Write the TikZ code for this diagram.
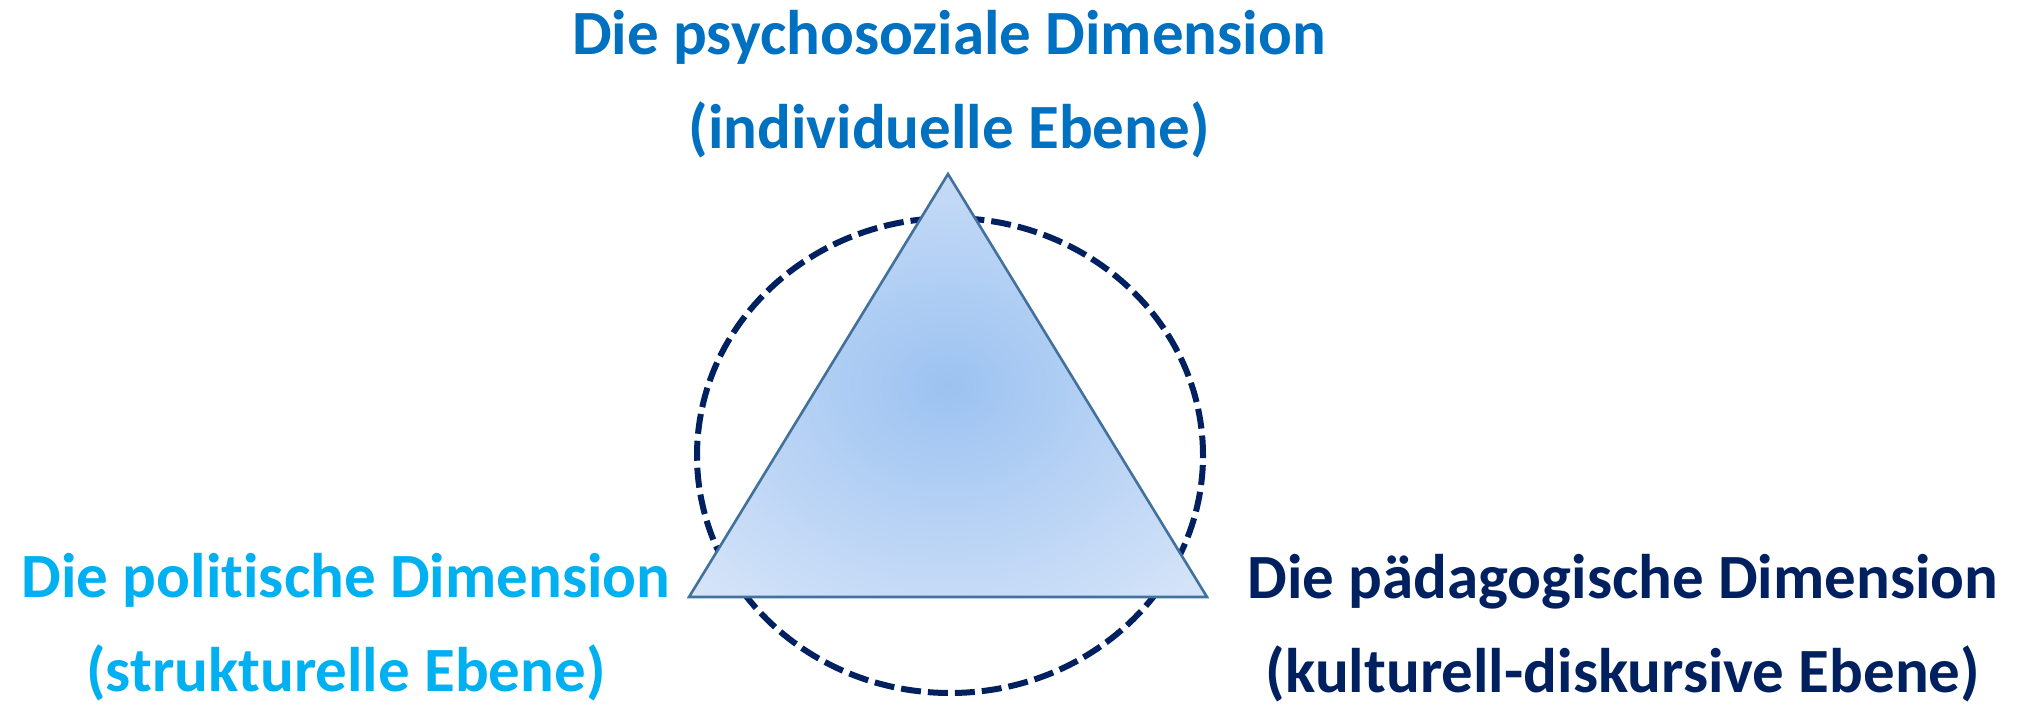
\documentclass[tikz,border=0pt]{standalone}
\usepackage{fontspec}
\setmainfont[Ligatures=NoCommon]{Carlito}
\usetikzlibrary{shapes.geometric}
\definecolor{topblue}{HTML}{0070C0}
\definecolor{leftblue}{HTML}{00B0F0}
\definecolor{navy}{HTML}{002060}
\definecolor{triline}{HTML}{41719C}
\definecolor{triin}{HTML}{9CC2F1}
\definecolor{triout}{HTML}{DCE8F9}
\pgfdeclareradialshading{trishade}{\pgfpoint{0bp}{0bp}}{color(0bp)=(triin); color(38bp)=(triout); color(50bp)=(triout)}
\tikzset{
  lbl/.style={font=\fontsize{31.5}{47}\selectfont\bfseries, align=center, anchor=base, inner sep=0pt},
  ring/.style={draw=navy, line width=3pt, dash pattern=on 10pt off 3.5pt},
  tri/.style={draw=triline, line width=1.3pt, shading=trishade, line join=miter}
}
\begin{document}
\begin{tikzpicture}[x=0.5pt,y=-0.5pt]
\useasboundingbox (0,0) rectangle (2026,707);
\coordinate (ringc) at (950,455.5);
\draw[ring] (ringc) ellipse [x radius=126.5pt, y radius=118.75pt];
\coordinate (A) at (948,174);
\coordinate (B) at (689,597);
\coordinate (C) at (1207,597);
\path[tri] (A) -- (B) -- (C) -- cycle;
\node[lbl, text=topblue] (top) at (949,148) {Die psychosoziale Dimension\\(individuelle Ebene)};
\node[lbl, text=leftblue] (left) at (346,691) {Die politische Dimension\\(strukturelle Ebene)};
\node[lbl, text=navy] (right) at (1623,692) {Die pädagogische Dimension\\(kulturell-diskursive Ebene)};
\end{tikzpicture}
\end{document}
